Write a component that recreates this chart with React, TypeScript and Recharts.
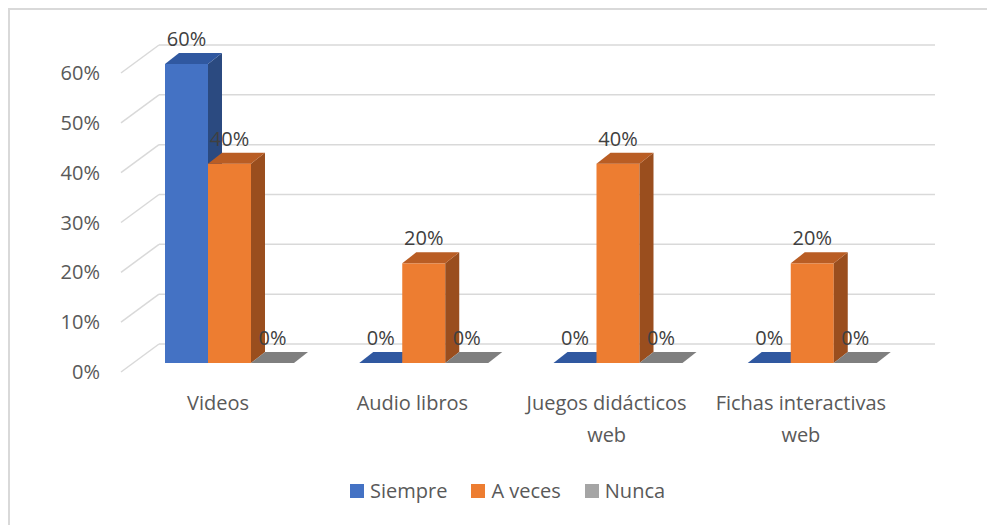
import { BarChart, Bar, XAxis, YAxis, CartesianGrid, Legend, LabelList } from "recharts";

// values (share of answers)
const categories = ["Videos", "Audio libros", "Juegos didácticos web", "Fichas interactivas web"];
const seriesNames = ["Siempre", "A veces", "Nunca"];
const siempre = [0.6, 0, 0, 0];
const aVeces = [0.4, 0.2, 0.4, 0.2];
const nunca = [0, 0, 0, 0];
const yTicks = [0, 0.1, 0.2, 0.3, 0.4, 0.5, 0.6];

const data = categories.map((name, i) => ({
  name,
  siempre: siempre[i],
  aVeces: aVeces[i],
  nunca: nunca[i],
}));

const FONT = "'Open Sans', 'Liberation Sans', sans-serif";
const AXIS_TEXT = "#595959";
const GRID = "#d9d9d9";

// fake 3D depth of each bar
const DX = 14;
const DY = 11;

const SHADES: Record<string, { top: string; side: string }> = {
  "#4472C4": { top: "#3058a0", side: "#2b4a80" },
  "#ED7D31": { top: "#b95d24", side: "#9a4e1e" },
  "#A5A5A5": { top: "#7f7f7f", side: "#6e6e6e" },
};

function Bar3D(props: any) {
  const { x, y, width: w, height: h, fill } = props;
  const s = SHADES[fill] ?? { top: fill, side: fill };
  return (
    <g>
      {h > 0 && <rect x={x} y={y} width={w} height={h} fill={fill} />}
      {h > 0 && (
        <polygon
          points={`${x + w},${y} ${x + w + DX},${y - DY} ${x + w + DX},${y + h - DY} ${x + w},${y + h}`}
          fill={s.side}
        />
      )}
      <polygon
        points={`${x},${y} ${x + DX},${y - DY} ${x + w + DX},${y - DY} ${x + w},${y}`}
        fill={s.top}
      />
    </g>
  );
}

const pct = (v: number) => `${Math.round(v * 100)}%`;

function renderValueLabel(p: any) {
  const { x, y, width, value } = p;
  return (
    <text
      x={Number(x) + Number(width) / 2}
      y={Number(y) - 18}
      textAnchor="middle"
      fontFamily={FONT}
      fontSize={20}
      fill="#404040"
    >
      {pct(Number(value))}
    </text>
  );
}

// y axis: label on the front plane plus the diagonal on the side wall
function ValueTick({ y, payload }: any) {
  return (
    <g>
      <line x1={121} y1={y + 9} x2={159} y2={y - 19} stroke={GRID} strokeWidth={1.5} />
      <text x={100} y={y + 16} textAnchor="end" fontFamily={FONT} fontSize={20} fill={AXIS_TEXT}>
        {pct(payload.value)}
      </text>
    </g>
  );
}

function wrap(label: string): string[] {
  if (label.length <= 14) return [label];
  const cut = label.lastIndexOf(" ");
  return [label.slice(0, cut), label.slice(cut + 1)];
}

function CategoryTick({ x, payload }: any) {
  return (
    <g>
      {wrap(payload.value).map((line, i) => (
        <text
          key={i}
          x={x - 11}
          y={410 + i * 32}
          textAnchor="middle"
          fontFamily={FONT}
          fontSize={20}
          fill={AXIS_TEXT}
        >
          {line}
        </text>
      ))}
    </g>
  );
}

function renderLegend(props: any) {
  // keep the series order, not the alphabetical one
  const items = [...(props.payload ?? [])].sort(
    (a: any, b: any) => seriesNames.indexOf(a.value) - seriesNames.indexOf(b.value)
  );
  return (
    <div
      style={{
        display: "flex",
        paddingLeft: 350,
        fontFamily: FONT,
        fontSize: 20,
        color: AXIS_TEXT,
      }}
    >
      {items.map((e: any) => (
        <span key={e.value} style={{ display: "flex", alignItems: "center", marginRight: 24 }}>
          <span style={{ width: 14, height: 14, background: e.color, marginRight: 6 }} />
          {e.value}
        </span>
      ))}
    </div>
  );
}

export default function App() {
  return (
    <div
      style={{
        position: "absolute",
        left: 0,
        top: 0,
        width: 987,
        height: 525,
        overflow: "hidden",
        background: "#fff",
      }}
    >
      {/* chart frame (only top and left edges are in the picture) */}
      <div
        style={{
          position: "absolute",
          left: 8,
          top: 8,
          width: 1000,
          height: 600,
          border: `2px solid ${GRID}`,
        }}
      />
      <div style={{ position: "absolute", left: 0, top: 0 }}>
        <BarChart
          width={987}
          height={525}
          data={data}
          margin={{ top: 64, right: 78, left: 0, bottom: 62 }}
          barGap={0}
          barSize={43}
        >
          <CartesianGrid
            vertical={false}
            horizontal={(p: any) => (
              <line
                key={p.key ?? p.index}
                x1={159}
                y1={p.y1 - 19}
                x2={935}
                y2={p.y2 - 19}
                stroke={GRID}
                strokeWidth={1.5}
              />
            )}
          />
          <XAxis
            dataKey="name"
            axisLine={false}
            tickLine={false}
            height={100}
            interval={0}
            tick={<CategoryTick />}
          />
          <YAxis
            width={132}
            domain={[0, 0.6]}
            ticks={yTicks}
            axisLine={false}
            tickLine={false}
            tick={<ValueTick />}
          />
          <Legend
            layout="horizontal"
            verticalAlign="middle"
            align="center"
            wrapperStyle={{ top: 477, left: 0, width: 987 }}
            content={renderLegend}
          />
          <Bar dataKey="siempre" name={seriesNames[0]} fill="#4472C4" shape={<Bar3D />} isAnimationActive={false}>
            <LabelList dataKey="siempre" content={renderValueLabel} />
          </Bar>
          <Bar dataKey="aVeces" name={seriesNames[1]} fill="#ED7D31" shape={<Bar3D />} isAnimationActive={false}>
            <LabelList dataKey="aVeces" content={renderValueLabel} />
          </Bar>
          <Bar dataKey="nunca" name={seriesNames[2]} fill="#A5A5A5" shape={<Bar3D />} isAnimationActive={false}>
            <LabelList dataKey="nunca" content={renderValueLabel} />
          </Bar>
        </BarChart>
      </div>
    </div>
  );
}
